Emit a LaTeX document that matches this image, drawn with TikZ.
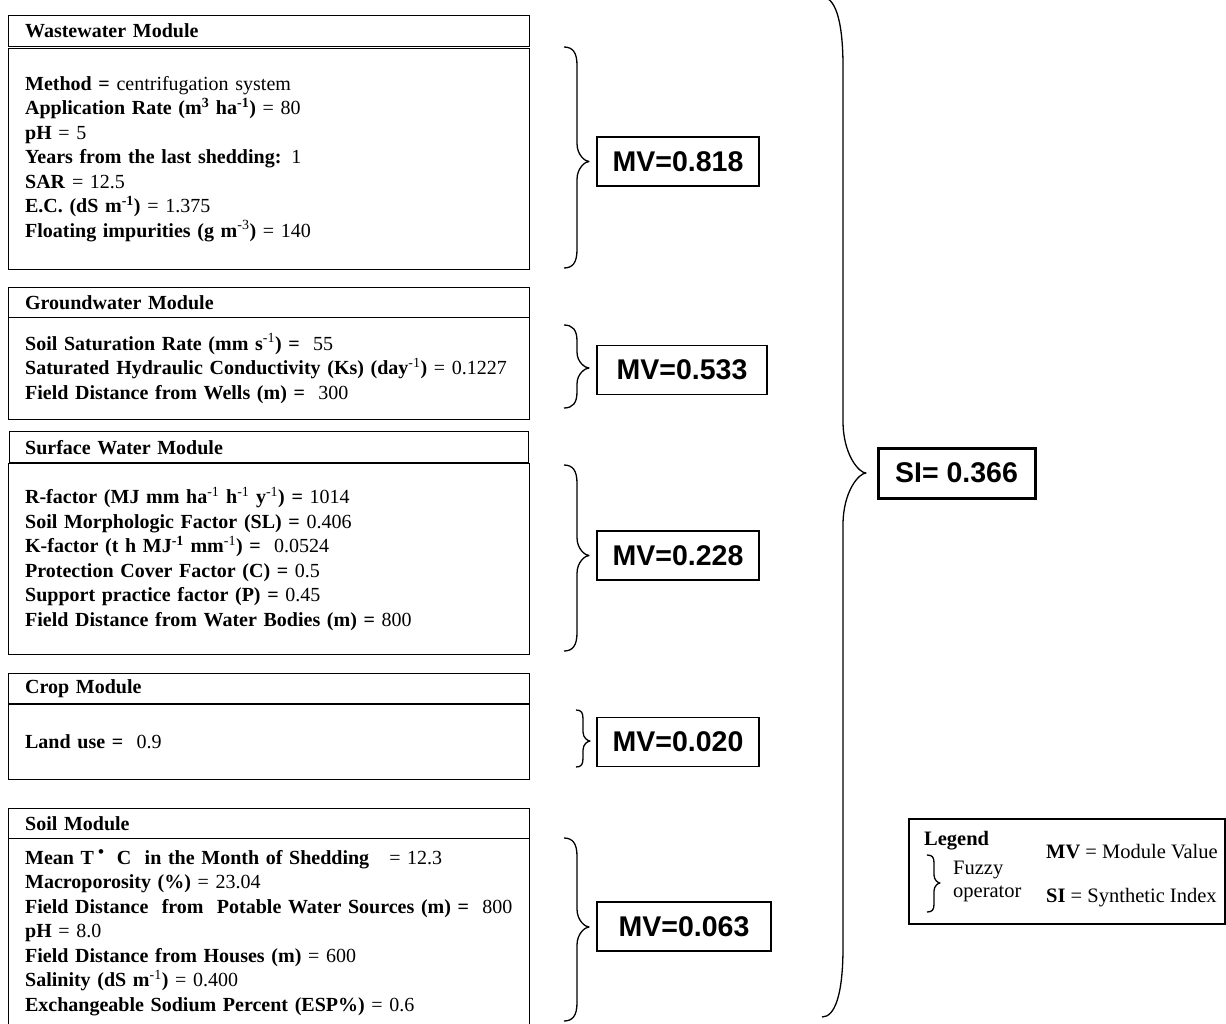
\documentclass[tikz,border=0pt]{standalone}
\usepackage{fontspec}
\setmainfont{Liberation Serif}
\newfontfamily\arialfont{Liberation Sans}
\newcommand\fzbrace[8]{%
 \draw[brc] (#1,#4) .. controls ({(#1+#2)/2+2},#4) and (#2,{#4+0.3*#7}) .. (#2,{#4+#7}) -- (#2,{#5-#8})
   .. controls (#2,{#5-0.35*#8}) and ({#3-0.3*(#3-#2)},#5) .. (#3,#5)
   .. controls ({#3-0.3*(#3-#2)},#5) and (#2,{#5+0.35*#8}) .. (#2,{#5+#8})
   -- (#2,{#6-#7}) .. controls (#2,{#6-0.3*#7}) and ({(#1+#2)/2+2},#6) .. (#1,#6);}
\begin{document}
\begin{tikzpicture}[x=1pt,y=-1pt,
  hdr/.style={draw, line width=1.3pt, minimum width=521pt, minimum height=31pt,
    text width=488pt, inner xsep=16.5pt, inner ysep=0pt, align=left, anchor=north west,
    font=\fontsize{20}{24.5}\selectfont\bfseries},
  body/.style={draw, line width=1.3pt, minimum width=521pt,
    text width=488pt, inner xsep=16.5pt, inner ysep=0pt, align=left, anchor=north west,
    font=\fontsize{20}{24.5}\selectfont},
  mvbox/.style={draw, line width=1.3pt, minimum height=49pt, inner xsep=0pt,
    font=\arialfont\bfseries\fontsize{28.5}{30}\selectfont},
  brc/.style={line width=1.3pt, line join=round},
  lg/.style={anchor=west, inner sep=0pt, font=\fontsize{20.5}{24}\selectfont}]
\useasboundingbox (0,0) rectangle (1226,1023);
\clip (0,0) rectangle (1226,1023);

% Wastewater module
\node[hdr] (wwh) at (8,15) {Wastewater Module};
\node[body, minimum height=221pt] (wwb) at (8,47.8) {%
\textbf{Method =} centrifugation system\\
\textbf{Application Rate (m\textsuperscript{3} ha\textsuperscript{-1})} = 80\\
\textbf{pH} = 5\\
\textbf{Years from the last shedding:} 1\\
\textbf{SAR} = 12.5\\
\textbf{E.C. (dS m\textsuperscript{-1})} = 1.375\\
\textbf{Floating impurities (g m}\textsuperscript{-3}\textbf{)} = 140};

% Groundwater module
\node[hdr, minimum height=30pt] (gwh) at (8,287) {Groundwater Module};
\node[body, minimum height=102pt] (gwb) at (8,317) {%
\textbf{Soil Saturation Rate (mm s}\textsuperscript{-1}\textbf{) =}\ \ 55\\
\textbf{Saturated Hydraulic Conductivity (Ks) (day}\textsuperscript{-1}\textbf{)} = 0.1227\\
\textbf{Field Distance from Wells (m) =}\ \ 300};

% Surface water module
\node[hdr, minimum width=519pt, inner xsep=15pt] (swh) at (9,431) {Surface Water Module};
\node[body, minimum height=191pt] (swb) at (8,462.8) {%
\textbf{R-factor (MJ mm ha}\textsuperscript{-1} \textbf{h}\textsuperscript{-1} \textbf{y}\textsuperscript{-1}\textbf{) =} 1014\\
\textbf{Soil Morphologic Factor (SL) =} 0.406\\
\textbf{K-factor (t h MJ\textsuperscript{-1} mm}\textsuperscript{-1}\textbf{) =}\ \ 0.0524\\
\textbf{Protection Cover Factor (C) =} 0.5\\
\textbf{Support practice factor (P) =} 0.45\\
\textbf{Field Distance from Water Bodies (m) =} 800};

% Crop module
\node[hdr, minimum height=30pt] (cph) at (8,673) {Crop Module};
\node[body, minimum height=75pt] (cpb) at (8,703.8) {\textbf{Land use =}\ \ 0.9};

% Soil module
\node[hdr, minimum height=30pt] (slh) at (8,808) {Soil Module};
\node[body, minimum height=188pt] (slb) at (8,838) {%
\textbf{Mean T\hspace{4pt}\raisebox{0.75ex}{\fontsize{17}{17}\selectfont\textbullet}\hspace{13pt}C\ \ in the Month of Shedding}\ \ \ = 12.3\\
\textbf{Macroporosity (\%)} = 23.04\\
\textbf{Field Distance\ \ from\ \ Potable Water Sources (m) =}\ \ 800\\
\textbf{pH} = 8.0\\
\textbf{Field Distance from Houses (m)} = 600\\
\textbf{Salinity (dS m}\textsuperscript{-1}\textbf{)} = 0.400\\
\textbf{Exchangeable Sodium Percent (ESP\%)} = 0.6};

% Module values
\node[mvbox, minimum width=162pt] (mv1) at (678,161.5) {MV=0.818};
\node[mvbox, minimum width=170pt] (mv2) at (682,370) {MV=0.533};
\node[mvbox, minimum width=162pt] (mv3) at (678,555.5) {MV=0.228};
\node[mvbox, minimum width=162pt] (mv4) at (678,742) {MV=0.020};
\node[mvbox, minimum width=174pt] (mv5) at (684,926.5) {MV=0.063};

% Synthetic index
\node[mvbox, line width=3pt, minimum width=157pt, minimum height=50pt] (si) at (956.5,473) {SI= 0.366};

% Braces (fuzzy operators)
\fzbrace{564}{577}{589}{47}{161.5}{268}{18}{18}
\fzbrace{564}{577}{589}{325}{368}{408}{16}{16}
\fzbrace{564}{577}{589}{465}{555.5}{651}{18}{18}
\fzbrace{576}{583}{590}{710}{741}{767}{9}{9}
\fzbrace{564}{577}{589}{838}{927}{1021}{18}{18}
\fzbrace{822}{843}{866}{-3}{473}{1017}{70}{52}

% Legend
\node[draw, line width=1.3pt, minimum width=316pt, minimum height=105pt, inner sep=0pt] (leg) at (1067,871.5) {};
\node[lg, font=\fontsize{20.5}{24}\selectfont\bfseries] (legt) at (924,841) {Legend};
\fzbrace{927}{934}{940}{855}{883}{912}{8}{8}
\node[lg] (fz1) at (953,870) {Fuzzy};
\node[lg] (fz2) at (953,894) {operator};
\node[lg] (lmv) at (1046,852) {\textbf{MV} = Module Value};
\node[lg] (lsi) at (1046,898) {\textbf{SI} = Synthetic Index};
\end{tikzpicture}
\end{document}
